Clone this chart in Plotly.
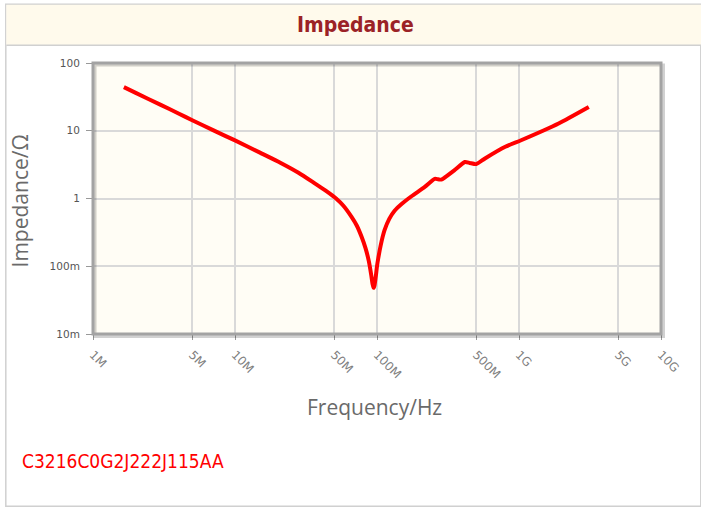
import plotly.graph_objects as go

# ---- data ----
freq_hz = [1.65e6, 2.0e6, 3.0e6, 4.0e6, 5.0e6, 7.0e6, 1.0e7, 1.5e7, 2.1e7, 2.8e7,
           3.6e7, 4.4e7, 5.15e7, 5.8e7, 6.6e7, 7.2e7, 7.8e7, 8.3e7, 8.75e7, 9.1e7,
           9.3e7, 9.46e7, 9.6e7, 9.8e7, 1.0e8, 1.02e8, 1.06e8, 1.13e8, 1.22e8, 1.33e8,
           1.49e8, 1.75e8, 2.17e8, 2.55e8, 2.7e8, 2.84e8, 3.0e8, 3.5e8, 4.16e8, 4.5e8,
           5.0e8, 5.76e8, 8.0e8, 1.035e9, 1.9e9, 3.1e9]
impedance_ohm = [44.0, 36.2, 24.1, 18.0, 14.3, 10.2, 7.2, 4.75, 3.35, 2.4,
                 1.7, 1.28, 1.0, 0.78, 0.54, 0.40, 0.27, 0.185, 0.12, 0.075,
                 0.055, 0.048, 0.052, 0.07, 0.10, 0.13, 0.20, 0.34, 0.50, 0.66,
                 0.83, 1.08, 1.48, 1.95, 1.92, 1.90, 2.04, 2.6, 3.45, 3.35,
                 3.22, 3.9, 5.8, 7.24, 12.8, 22.4]

x_tick_vals = [1e6, 5e6, 1e7, 5e7, 1e8, 5e8, 1e9, 5e9, 1e10]
x_tick_text = ["1M", "5M", "10M", "50M", "100M", "500M", "1G", "5G", "10G"]
y_tick_vals = [0.01, 0.1, 1, 10, 100]
y_tick_text = ["10m", "100m", "1", "10", "100"]

part_number = "C3216C0G2J222J115AA"

W, H = 701, 510
L, R, T, B = 92.7, 660.7, 62.7, 334.0


def px(xp):
    return (xp - L) / (R - L)


def py(yp):
    return (B - yp) / (B - T)


fig = go.Figure()
fig.add_trace(go.Scatter(x=freq_hz, y=impedance_ohm, mode="lines",
                         line=dict(color="#ff0000", width=4, shape="spline", smoothing=0.6),
                         hoverinfo="skip", showlegend=False))

grid = "#d9d9d9"
fig.update_xaxes(type="log", range=[6, 10], tickvals=x_tick_vals, ticktext=x_tick_text,
                 tickangle=45, showgrid=True, gridcolor=grid, gridwidth=2,
                 zeroline=False, ticks="outside", ticklen=5, tickcolor="#999999",
                 ticklabelstandoff=3,
                 tickfont=dict(family="DejaVu Sans", size=12, color="#808080"),
                 showline=False)
fig.update_yaxes(type="log", range=[-2, 2], tickvals=y_tick_vals, ticktext=y_tick_text,
                 showgrid=True, gridcolor=grid, gridwidth=2, zeroline=False,
                 ticks="outside", ticklen=6, tickcolor="#999999", ticklabelstandoff=4,
                 tickfont=dict(family="DejaVu Sans", size=10.5, color="#555555"),
                 showline=False)

shapes = []
# outer frame
shapes.append(dict(type="rect", xref="paper", yref="paper",
                   x0=px(5.5), x1=px(700.5), y0=py(506.5), y1=py(4),
                   line=dict(color="#d0d0d0", width=1.5), fillcolor="rgba(0,0,0,0)", layer="below"))
# header band
shapes.append(dict(type="rect", xref="paper", yref="paper",
                   x0=px(6), x1=px(701), y0=py(45), y1=py(4.5),
                   line=dict(width=0), fillcolor="#fffaec", layer="below"))
shapes.append(dict(type="line", xref="paper", yref="paper",
                   x0=px(6), x1=px(701), y0=py(45), y1=py(45),
                   line=dict(color="#d0d0d0", width=1.5)))
# plot border shadow + border
shapes.append(dict(type="rect", xref="paper", yref="paper",
                   x0=px(L + 2), x1=px(R + 2.5), y0=py(B + 2.5), y1=py(T + 2),
                   line=dict(color="rgba(0,0,0,0.18)", width=3), fillcolor="rgba(0,0,0,0)"))
shapes.append(dict(type="rect", xref="paper", yref="paper",
                   x0=0, x1=1, y0=0, y1=1,
                   line=dict(color="#a3a3a3", width=3), fillcolor="rgba(0,0,0,0)"))

annotations = [
    dict(text="<b>Impedance</b>", x=px(355), y=py(25), xref="paper", yref="paper",
         showarrow=False, xanchor="center", yanchor="middle",
         font=dict(family="DejaVu Sans Condensed, DejaVu Sans", size=21, color="#9b2226")),
    dict(text="Frequency/Hz", x=px(374), y=py(407), xref="paper", yref="paper",
         showarrow=False, xanchor="center", yanchor="middle",
         font=dict(family="Open Sans", size=21, color="#6a6a6a")),
    dict(text="Impedance/Ω", x=px(20), y=py(201), xref="paper", yref="paper",
         showarrow=False, xanchor="center", yanchor="middle", textangle=-90,
         font=dict(family="Open Sans", size=21, color="#6a6a6a")),
    dict(text=part_number, x=px(20), y=py(461), xref="paper", yref="paper",
         showarrow=False, xanchor="left", yanchor="middle",
         font=dict(family="DejaVu Sans Condensed, DejaVu Sans", size=19, color="#ff0000")),
]

fig.update_layout(width=W, height=H, autosize=False,
                  margin=dict(l=L, r=W - R, t=T, b=H - B, pad=0),
                  paper_bgcolor="#ffffff", plot_bgcolor="#fffdf5",
                  shapes=shapes, annotations=annotations, showlegend=False)

fig.write_html("out.html", config={"displayModeBar": False},
               post_script="document.body.style.margin='0';")
